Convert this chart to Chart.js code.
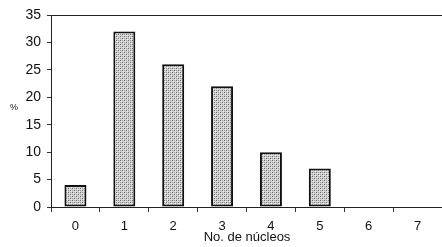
<!DOCTYPE html>
<html>
<head>
<meta charset="utf-8">
<script src="https://cdn.jsdelivr.net/npm/chart.js@4"></script>
<style>
  body { margin: 0; background: #fff; }
</style>
</head>
<body>
<canvas id="chart" width="442" height="247"></canvas>
<script>
const categories = ["0", "1", "2", "3", "4", "5", "6", "7"];
const percent = [4, 32, 26, 22, 10, 7, 0, 0];
const yTicks = [0, 5, 10, 15, 20, 25, 30, 35];

// stippled grey fill like the scanned figure
const pat = document.createElement("canvas");
pat.width = 4;
pat.height = 4;
const pctx = pat.getContext("2d");
pctx.fillStyle = "#d2d2d2";
pctx.fillRect(0, 0, 4, 4);
pctx.fillStyle = "#6e6e6e";
pctx.fillRect(0, 0, 1, 1);
pctx.fillRect(2, 2, 1, 1);
pctx.fillStyle = "#9a9a9a";
pctx.fillRect(2, 0, 1, 1);
pctx.fillRect(0, 2, 1, 1);
pctx.fillStyle = "#eeeeee";
pctx.fillRect(1, 1, 1, 1);
pctx.fillRect(3, 3, 1, 1);
const stipple = pctx.createPattern(pat, "repeat");

const extraText = {
  id: "extraText",
  afterDraw(chart) {
    const ctx = chart.ctx;
    const area = chart.chartArea;
    ctx.save();
    // top frame line
    ctx.strokeStyle = "#222";
    ctx.lineWidth = 1;
    ctx.beginPath();
    ctx.moveTo(area.left, area.top + 0.5);
    ctx.lineTo(area.right, area.top + 0.5);
    ctx.stroke();
    ctx.fillStyle = "#111";
    ctx.textAlign = "center";
    ctx.textBaseline = "middle";
    ctx.font = "9px 'Liberation Sans', Arial, sans-serif";
    ctx.fillText("%", 14, 108);
    ctx.font = "13px 'Liberation Sans', Arial, sans-serif";
    ctx.fillText("No. de núcleos", 247, 237);
    ctx.restore();
  }
};

new Chart(document.getElementById("chart"), {
  type: "bar",
  data: {
    labels: categories,
    datasets: [{
      label: "%",
      data: percent,
      backgroundColor: stipple,
      borderColor: "#111",
      borderWidth: 2,
      borderSkipped: false,
      barPercentage: 0.45,
      categoryPercentage: 1
    }]
  },
  options: {
    responsive: false,
    animation: false,
    devicePixelRatio: 1,
    layout: { padding: { top: 15, right: 0, left: 0, bottom: 0 } },
    plugins: {
      legend: { display: false },
      tooltip: { enabled: false }
    },
    scales: {
      x: {
        grid: {
          display: true,
          drawOnChartArea: false,
          drawTicks: true,
          tickLength: 5,
          offset: true,
          color: "#333"
        },
        border: { color: "#222", width: 1 },
        ticks: {
          color: "#111",
          padding: 7,
          font: { family: "'Liberation Sans', Arial, sans-serif", size: 13 }
        },
        afterFit(scale) { scale.height = 40; }
      },
      y: {
        min: 0,
        max: 35,
        afterBuildTicks(scale) { scale.ticks = yTicks.map(v => ({ value: v })); },
        grid: {
          drawOnChartArea: false,
          drawTicks: true,
          tickLength: 4,
          color: "#333"
        },
        border: { color: "#222", width: 1 },
        ticks: {
          color: "#111",
          padding: 6,
          font: { family: "'Liberation Sans', Arial, sans-serif", size: 14 }
        },
        afterFit(scale) { scale.width = 51; }
      }
    }
  },
  plugins: [extraText]
});
</script>
</body>
</html>
